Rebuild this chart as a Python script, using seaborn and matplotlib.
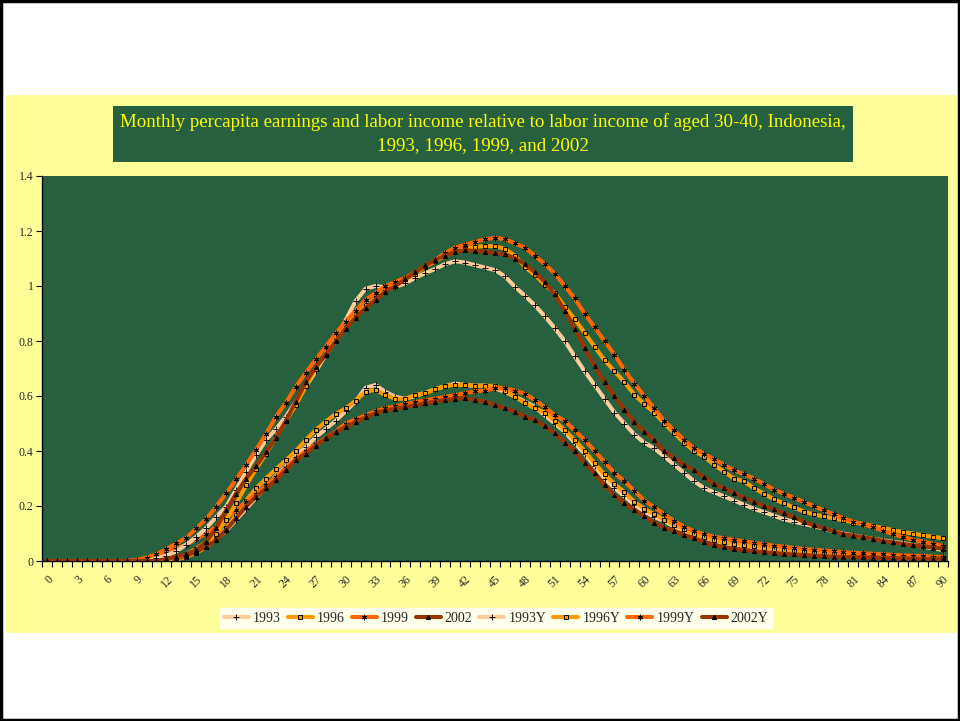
import matplotlib
matplotlib.use('Agg')
import matplotlib.pyplot as plt
import seaborn as sns
import pandas as pd
from matplotlib.patches import Rectangle

# ---------------- data ----------------
ages = list(range(91))
xtick_labels = [str(a) for a in range(0, 91, 3)]
yticks = [0, 0.2, 0.4, 0.6, 0.8, 1.0, 1.2, 1.4]
ytick_labels = ['0', '0.2', '0.4', '0.6', '0.8', '1', '1.2', '1.4']

title_line1 = "Monthly percapita earnings and labor income relative to labor income of aged 30-40, Indonesia,"
title_line2 = "1993, 1996, 1999, and 2002"

series_names = ['1993', '1996', '1999', '2002', '1993Y', '1996Y', '1999Y', '2002Y']

v1993 = [0, 0, 0, 0, 0, 0, 0, 0, 0, 0,
         0, 0, 0.005, 0.01, 0.02, 0.035, 0.055, 0.08, 0.11, 0.15,
         0.19, 0.23, 0.27, 0.31, 0.345, 0.38, 0.415, 0.45, 0.48, 0.51,
         0.545, 0.58, 0.63, 0.64, 0.615, 0.597, 0.59, 0.6, 0.612, 0.625,
         0.635, 0.645, 0.64, 0.637, 0.638, 0.628, 0.615, 0.598, 0.58, 0.56,
         0.53, 0.5, 0.47, 0.43, 0.39, 0.345, 0.3, 0.265, 0.235, 0.205,
         0.18, 0.16, 0.145, 0.125, 0.11, 0.095, 0.085, 0.075, 0.065, 0.06,
         0.055, 0.05, 0.045, 0.041, 0.037, 0.034, 0.031, 0.028, 0.026, 0.024,
         0.022, 0.02, 0.018, 0.016, 0.015, 0.014, 0.013, 0.012, 0.011, 0.01,
         0.01]

v1996 = [0, 0, 0, 0, 0, 0, 0, 0, 0, 0,
         0, 0, 0, 0.005, 0.015, 0.03, 0.05, 0.08, 0.12, 0.167,
         0.22, 0.264, 0.3, 0.334, 0.367, 0.4, 0.44, 0.476, 0.507, 0.535,
         0.555, 0.583, 0.616, 0.622, 0.604, 0.59, 0.59, 0.604, 0.61, 0.625,
         0.637, 0.64, 0.64, 0.637, 0.637, 0.637, 0.62, 0.597, 0.575, 0.555,
         0.54, 0.51, 0.475, 0.44, 0.4, 0.355, 0.315, 0.28, 0.25, 0.215,
         0.19, 0.17, 0.15, 0.13, 0.115, 0.097, 0.087, 0.077, 0.068, 0.062,
         0.058, 0.053, 0.048, 0.044, 0.04, 0.037, 0.034, 0.031, 0.029, 0.027,
         0.025, 0.023, 0.021, 0.019, 0.018, 0.016, 0.015, 0.014, 0.013, 0.012,
         0.012]

v1999 = [0, 0, 0, 0, 0, 0, 0, 0, 0, 0.003,
         0.01, 0.02, 0.03, 0.045, 0.06, 0.08, 0.1, 0.125, 0.155, 0.185,
         0.215, 0.245, 0.275, 0.307, 0.34, 0.374, 0.4, 0.425, 0.447, 0.47,
         0.5, 0.515, 0.53, 0.545, 0.555, 0.563, 0.57, 0.578, 0.585, 0.59,
         0.597, 0.603, 0.61, 0.617, 0.62, 0.628, 0.628, 0.62, 0.608, 0.585,
         0.56, 0.53, 0.51, 0.475, 0.44, 0.4, 0.36, 0.32, 0.29, 0.255,
         0.22, 0.195, 0.17, 0.145, 0.125, 0.108, 0.098, 0.088, 0.083, 0.077,
         0.072, 0.066, 0.061, 0.056, 0.052, 0.048, 0.044, 0.041, 0.038, 0.035,
         0.032, 0.03, 0.028, 0.026, 0.024, 0.022, 0.02, 0.019, 0.018, 0.016,
         0.015]

v2002 = [0, 0, 0, 0, 0, 0, 0, 0, 0, 0,
         0, 0, 0, 0.008, 0.02, 0.034, 0.052, 0.076, 0.113, 0.156,
         0.198, 0.234, 0.264, 0.294, 0.331, 0.367, 0.39, 0.42, 0.446, 0.468,
         0.488, 0.505, 0.522, 0.538, 0.548, 0.554, 0.56, 0.567, 0.573, 0.58,
         0.585, 0.59, 0.592, 0.585, 0.58, 0.567, 0.556, 0.543, 0.525, 0.513,
         0.49, 0.465, 0.43, 0.4, 0.357, 0.32, 0.276, 0.24, 0.21, 0.185,
         0.163, 0.14, 0.12, 0.11, 0.095, 0.083, 0.07, 0.058, 0.05, 0.044,
         0.04, 0.036, 0.032, 0.029, 0.026, 0.024, 0.022, 0.02, 0.018, 0.016,
         0.015, 0.014, 0.013, 0.012, 0.011, 0.01, 0.009, 0.009, 0.008, 0.008,
         0.008]

v1993Y = [0, 0, 0, 0, 0, 0, 0, 0, 0, 0,
          0, 0.01, 0.02, 0.035, 0.06, 0.088, 0.12, 0.16, 0.198, 0.26,
          0.325, 0.385, 0.44, 0.48, 0.525, 0.58, 0.635, 0.69, 0.75, 0.81,
          0.876, 0.945, 0.99, 1.0, 0.995, 0.997, 1.01, 1.03, 1.047, 1.062,
          1.08, 1.09, 1.085, 1.076, 1.067, 1.058, 1.035, 0.997, 0.965, 0.93,
          0.89, 0.847, 0.8, 0.745, 0.69, 0.64, 0.59, 0.54, 0.5, 0.46,
          0.43, 0.41, 0.38, 0.35, 0.32, 0.29, 0.265, 0.25, 0.235, 0.22,
          0.205, 0.19, 0.178, 0.165, 0.152, 0.143, 0.135, 0.127, 0.118, 0.108,
          0.1, 0.093, 0.087, 0.08, 0.075, 0.07, 0.065, 0.058, 0.052, 0.046,
          0.04]

v1996Y = [0, 0, 0, 0, 0, 0, 0, 0, 0, 0,
          0, 0, 0.005, 0.012, 0.025, 0.045, 0.07, 0.1, 0.15, 0.21,
          0.275, 0.335, 0.39, 0.45, 0.51, 0.567, 0.636, 0.7, 0.75, 0.8,
          0.85, 0.895, 0.93, 0.955, 0.985, 1.005, 1.025, 1.045, 1.07, 1.09,
          1.11, 1.125, 1.135, 1.143, 1.145, 1.145, 1.135, 1.11, 1.07, 1.04,
          1.005, 0.975, 0.925, 0.88, 0.83, 0.78, 0.73, 0.69, 0.65, 0.605,
          0.57, 0.54, 0.5, 0.465, 0.43, 0.4, 0.38, 0.35, 0.325, 0.3,
          0.29, 0.265, 0.245, 0.225, 0.21, 0.195, 0.18, 0.17, 0.162, 0.155,
          0.148, 0.14, 0.135, 0.127, 0.12, 0.112, 0.105, 0.1, 0.093, 0.088,
          0.083]

v1999Y = [0, 0, 0, 0, 0, 0, 0, 0, 0, 0.004,
          0.012, 0.025, 0.043, 0.064, 0.085, 0.119, 0.153, 0.198, 0.246, 0.297,
          0.349, 0.404, 0.462, 0.525, 0.576, 0.634, 0.685, 0.733, 0.779, 0.828,
          0.87, 0.91, 0.95, 0.975, 1.0, 1.015, 1.03, 1.05, 1.07, 1.095,
          1.12, 1.14, 1.15, 1.16, 1.17, 1.175, 1.17, 1.155, 1.14, 1.11,
          1.08, 1.045, 1.0, 0.955, 0.9, 0.85, 0.8, 0.75, 0.695, 0.645,
          0.6, 0.555, 0.51, 0.475, 0.44, 0.41, 0.39, 0.37, 0.35, 0.33,
          0.315, 0.3, 0.28, 0.26, 0.245, 0.23, 0.215, 0.2, 0.185, 0.17,
          0.155, 0.143, 0.133, 0.123, 0.11, 0.097, 0.087, 0.077, 0.07, 0.062,
          0.055]

v2002Y = [0, 0, 0, 0, 0, 0, 0, 0, 0, 0,
          0, 0, 0.008, 0.015, 0.025, 0.04, 0.07, 0.12, 0.185, 0.245,
          0.3, 0.345, 0.395, 0.447, 0.51, 0.58, 0.65, 0.705, 0.75, 0.8,
          0.845, 0.885, 0.92, 0.95, 0.98, 1.0, 1.025, 1.05, 1.075, 1.095,
          1.11, 1.125, 1.13, 1.128, 1.125, 1.12, 1.115, 1.1, 1.08, 1.05,
          1.015, 0.97, 0.91, 0.845, 0.775, 0.71, 0.65, 0.6, 0.55, 0.505,
          0.47, 0.44, 0.4, 0.375, 0.35, 0.33, 0.305, 0.28, 0.265, 0.248,
          0.23, 0.215, 0.2, 0.188, 0.175, 0.16, 0.143, 0.13, 0.12, 0.108,
          0.098, 0.092, 0.087, 0.08, 0.073, 0.068, 0.062, 0.057, 0.053, 0.049,
          0.045]

all_values = [v1993, v1996, v1999, v2002, v1993Y, v1996Y, v1999Y, v2002Y]

# ---------------- style ----------------
line_colors = ['#FFCC99', '#FF9900', '#FF6600', '#993300'] * 2
markers = ['+', 's', (6, 2, 0), '^'] * 2
marker_sizes = [4.0, 2.4, 4.0, 3.0] * 2
green = '#27603F'
yellow_bg = '#FFFF99'

sns.set_theme(style='white')
plt.rcParams['font.family'] = ['Liberation Serif', 'DejaVu Serif']

fig = plt.figure(figsize=(9.6, 7.21), dpi=100)
fig.patch.set_facecolor('white')

W, H = 960.0, 721.0
def fx(px):
    return px / W
def fy(py):
    return 1 - py / H

# yellow chart area
fig.add_artist(Rectangle((fx(6), fy(633)), fx(951), (633 - 95) / H,
                         transform=fig.transFigure, facecolor=yellow_bg,
                         edgecolor='none', zorder=0))
# outer black frame
fig.add_artist(Rectangle((0.0015, 0.002), 0.997, 0.996, transform=fig.transFigure,
                         fill=False, edgecolor='black', lw=2.5, zorder=20))
# title box
fig.add_artist(Rectangle((fx(113), fy(162)), fx(853 - 113), (162 - 106) / H,
                         transform=fig.transFigure, facecolor=green,
                         edgecolor='none', zorder=1))
fig.text(fx((113 + 853) / 2), fy(122), title_line1, ha='center', va='center',
         color='#FFFF00', fontsize=13.6, zorder=2)
fig.text(fx((113 + 853) / 2), fy(146), title_line2, ha='center', va='center',
         color='#FFFF00', fontsize=13.6, zorder=2)

ax = fig.add_axes([fx(42), fy(561), fx(948 - 42), (561 - 176) / H])
ax.set_facecolor(green)

rows = []
for name, vals in zip(series_names, all_values):
    for a, v in zip(ages, vals):
        rows.append({'age': a, 'value': v, 'series': name})
df = pd.DataFrame(rows)

for i, name in enumerate(series_names):
    sub = df[df['series'] == name]
    sns.lineplot(data=sub, x='age', y='value', ax=ax, color=line_colors[i],
                 lw=2.9, marker=markers[i], markersize=marker_sizes[i],
                 markeredgecolor='black',
                 markerfacecolor=('black' if markers[i] == '^' else line_colors[i]),
                 markeredgewidth=0.7, label=name, legend=False, zorder=3 + i,
                 estimator=None, sort=False)

ax.set_xlim(-0.5, 90.5)
ax.set_ylim(0, 1.4)
ax.set_xlabel('')
ax.set_ylabel('')

ax.set_xticks(list(range(0, 91, 3)))
ax.set_xticklabels(xtick_labels, rotation=45, ha='right', rotation_mode='anchor',
                   fontsize=8.5)
ax.set_xticks([a - 0.5 for a in ages] + [90.5], minor=True)
ax.tick_params(axis='x', which='major', length=0, pad=9)
ax.tick_params(axis='x', which='minor', length=4, width=0.8, color='black',
               direction='out', bottom=True)

ax.set_yticks(yticks)
ax.set_yticklabels(ytick_labels, fontsize=8.5)
ax.tick_params(axis='y', which='major', length=4, width=0.8, color='black',
               direction='out', left=True, pad=2)

for s in ['top', 'right']:
    ax.spines[s].set_visible(False)
for s in ['left', 'bottom']:
    ax.spines[s].set_color('black')
    ax.spines[s].set_linewidth(1.0)
ax.grid(False)

handles, labels = ax.get_legend_handles_labels()
leg = fig.legend(handles, labels, loc='center', bbox_to_anchor=(fx(496), fy(618)),
                 ncol=8, fontsize=10, frameon=True, fancybox=False,
                 handlelength=1.8, handletextpad=0.3, columnspacing=0.5,
                 borderpad=0.25, borderaxespad=0)
leg.get_frame().set_facecolor('white')
leg.get_frame().set_edgecolor('white')

fig.savefig('out.png', dpi=100, facecolor='white')
